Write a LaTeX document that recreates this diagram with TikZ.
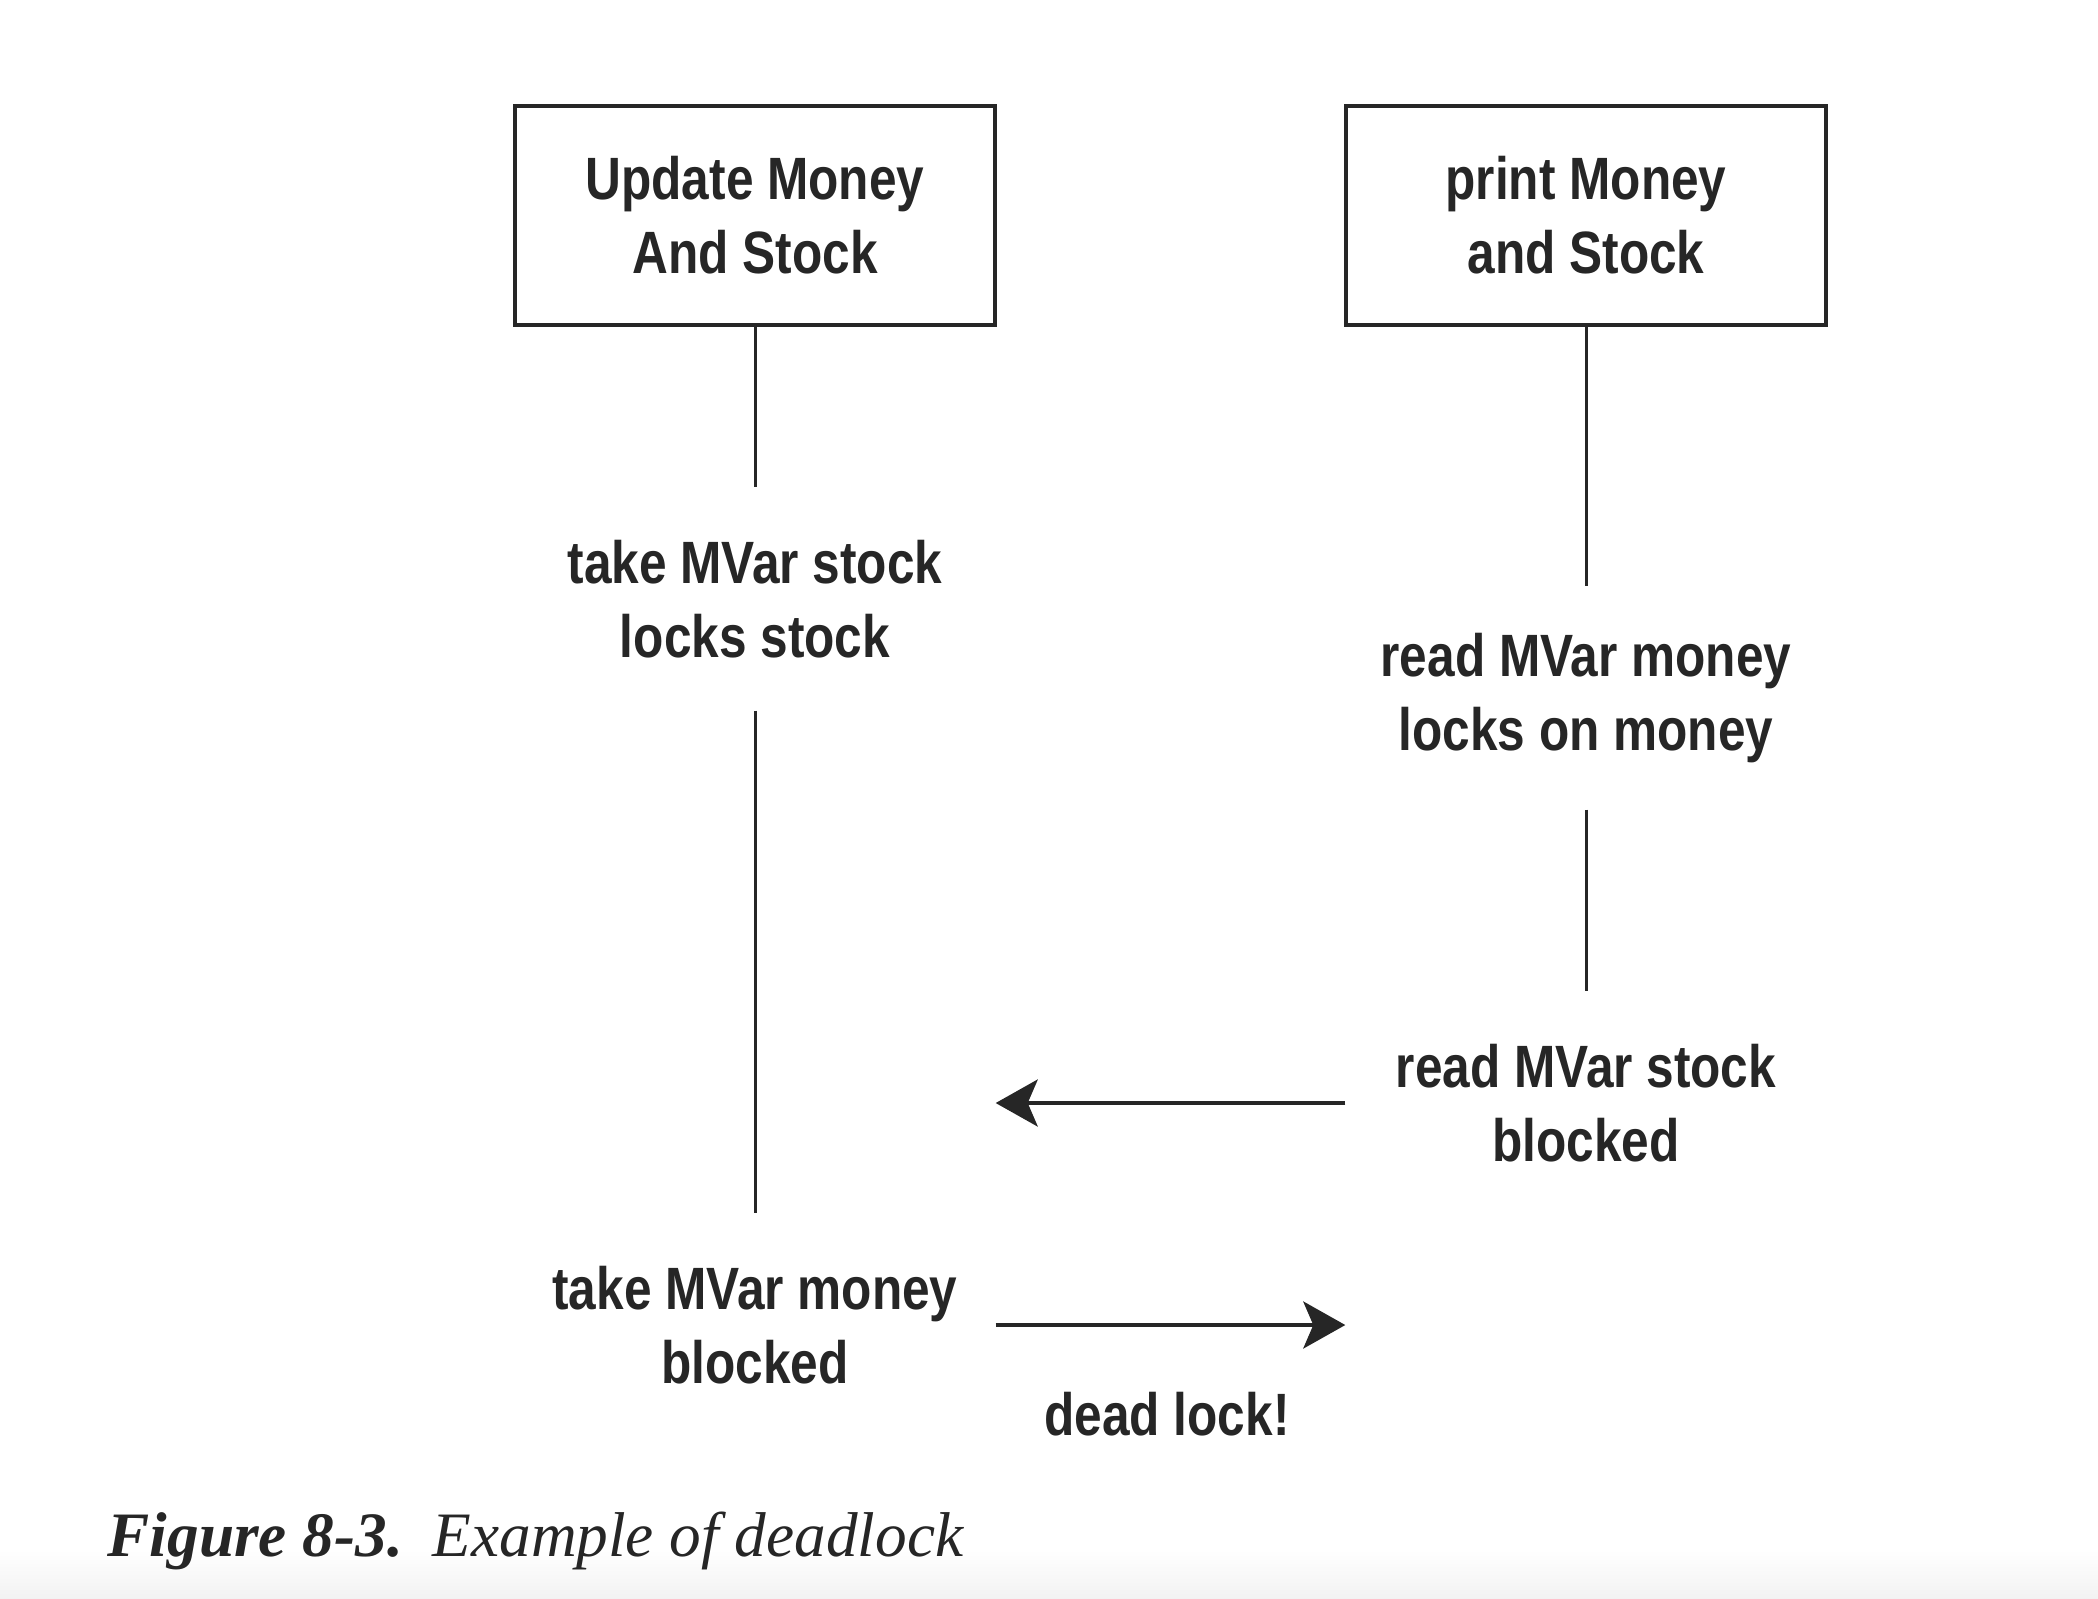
\documentclass[tikz,border=0pt]{standalone}
\usepackage{fontspec}
\setmainfont{Liberation Serif}
\newfontfamily\lanefont[FakeStretch=0.83]{Liberation Sans}
\usetikzlibrary{arrows.meta,positioning}
\tikzset{
  task box/.style={draw=black!85,line width=1.15pt,minimum width=4.8cm,minimum height=2.19cm,inner sep=0pt,align=center,text=black!85,font=\lanefont\bfseries\fontsize{17}{21}\selectfont},
  step text/.style={minimum width=4.8cm,minimum height=2.22cm,inner sep=0pt,align=center,text=black!85,font=\lanefont\bfseries\fontsize{17}{21}\selectfont},
  life line/.style={draw=black!85,line width=0.85pt},
  lock arrow/.style={-{Stealth[length=4.2mm,width=4.7mm,inset=1mm]},draw=black!85,line width=1.15pt},
}
\begin{document}
\begin{tikzpicture}
  \useasboundingbox (0,0) rectangle (20.98,-15.98);
  \shade[top color=white,bottom color=black!5] (0,-15.5) rectangle (20.98,-15.98);
  \node[task box] (ub) at (7.55,-2.155) {Update Money\\And Stock};
  \node[task box] (pb) at (15.86,-2.155) {print Money\\and Stock};
  \node[step text] (ts) at (7.55,-5.99) {take MVar stock\\locks stock};
  \node[step text] (tm) at (7.55,-13.25) {take MVar money\\blocked};
  \node[step text] (rm) at (15.86,-6.98) {read MVar money\\locks on money};
  \node[step text] (rs) at (15.86,-11.03) {read MVar stock\\blocked};
  \node[text=black!85,font=\lanefont\bfseries\fontsize{17}{21}\selectfont] (dl) at (11.67,-14.14) {dead lock!};
  \draw[life line] (ub) -- (ts);
  \draw[life line] (ts) -- (tm);
  \draw[life line] (pb) -- (rm);
  \draw[life line] (rm) -- (rs);
  \draw[lock arrow] (rs.west) -- (rs.west -| ts.east);
  \draw[lock arrow] (tm.east) -- (tm.east -| rs.west);
  % caption
  \node[anchor=base west,inner sep=0pt,text=black!85,font=\fontsize{18}{22}\selectfont] (cap) at (1.07,-15.56) {\textbf{\textit{Figure 8-3.}}\hspace{0.47em}\textit{Example of deadlock}};
\end{tikzpicture}
\end{document}
